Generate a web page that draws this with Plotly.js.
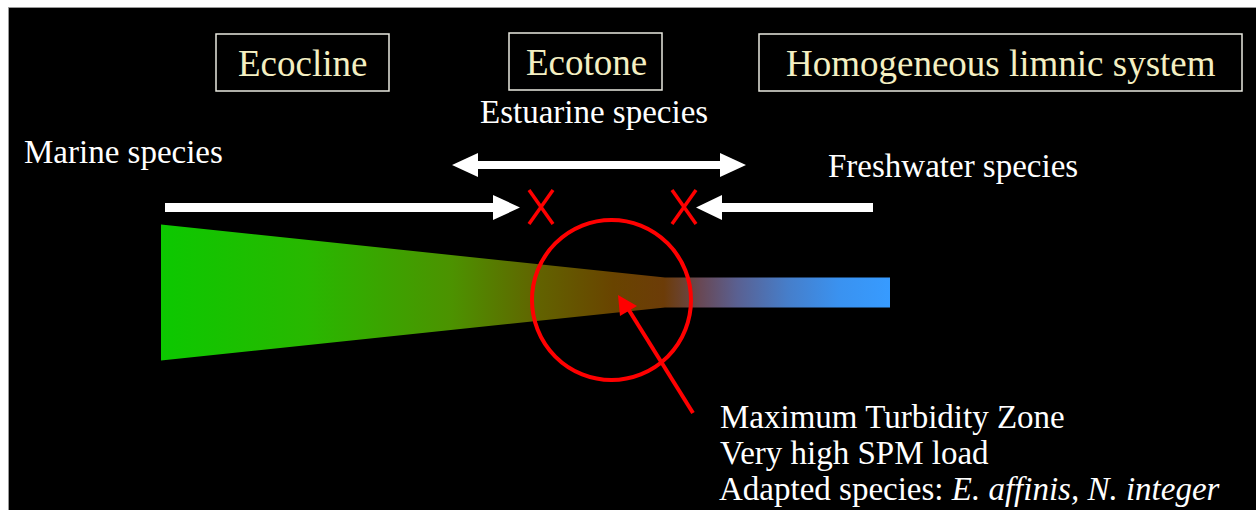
<!DOCTYPE html>
<html>
<head>
<meta charset="utf-8">
<script src="https://cdn.plot.ly/plotly-3.0.1.min.js"></script>
<style>html,body{margin:0;padding:0;background:#fff;}#chart{width:1256px;height:510px;}</style>
</head>
<body>
<div id="chart"></div>
<script>
// ---- data ----
const zoneLabels = ['Ecocline', 'Ecotone', 'Homogeneous limnic system'];
const speciesLabels = ['Marine species', 'Estuarine species', 'Freshwater species'];
const mtzNotes = ['Maximum Turbidity Zone', 'Very high SPM load', 'Adapted species: <i>E. affinis, N. integer</i>'];
// estuary profile: position along the estuary and channel half-width
const estuaryPos = [161, 665, 890];
const estuaryHalfWidth = [68, 15, 15];
// colour of the water along the estuary (fraction of length, colour)
const gradientFrac = [0, 0.20, 0.40, 0.52, 0.62, 0.69, 0.74, 0.79, 0.86, 0.93, 1.0];
const gradientColors = ['rgb(12,200,0)', 'rgb(40,184,0)', 'rgb(76,146,0)', 'rgb(98,98,0)', 'rgb(105,68,0)',
  'rgb(108,60,8)', 'rgb(104,72,85)', 'rgb(90,96,145)', 'rgb(70,126,202)', 'rgb(58,146,240)', 'rgb(55,155,255)'];

// ---- build ----
const yc = 292.5;
const polyX = estuaryPos.concat(estuaryPos.slice().reverse()).concat([estuaryPos[0]]);
const polyY = estuaryPos.map((p, i) => yc - estuaryHalfWidth[i])
  .concat(estuaryPos.slice().reverse().map((p, i) => yc + estuaryHalfWidth[estuaryPos.length - 1 - i]))
  .concat([yc - estuaryHalfWidth[0]]);

const traces = [{
  type: 'scatter', mode: 'lines', x: polyX, y: polyY,
  fill: 'toself', line: {width: 0, color: 'rgba(0,0,0,0)'},
  fillgradient: {type: 'horizontal', start: estuaryPos[0], stop: estuaryPos[estuaryPos.length - 1],
    colorscale: gradientFrac.map((f, i) => [f, gradientColors[i]])},
  hoverinfo: 'skip'
}];

const white = '#ffffff', red = '#ff0000', cream = '#F4EFC2';
const boxes = [[216, 34, 389, 91], [509, 33, 662, 90], [759, 34, 1242, 91]];
const shapes = [
  {type: 'rect', xref: 'x', yref: 'y', x0: 8.5, y0: 7.5, x1: 1300, y1: 560, fillcolor: '#000', line: {color: '#999', width: 1}, layer: 'below'}
];
boxes.forEach(b => shapes.push({type: 'rect', x0: b[0], y0: b[1], x1: b[2], y1: b[3], line: {color: '#e9e9e0', width: 1.5}, layer: 'above'}));
// white arrows
shapes.push({type: 'path', path: 'M452,165 L478,153 L478,161 L720,161 L720,153 L746,165 L720,177 L720,169 L478,169 L478,177 Z', fillcolor: white, line: {width: 0}, layer: 'above'});
shapes.push({type: 'path', path: 'M165,203 L493,203 L493,195 L520,207.5 L493,220 L493,212 L165,212 Z', fillcolor: white, line: {width: 0}, layer: 'above'});
shapes.push({type: 'path', path: 'M873,203 L722,203 L722,195 L696,207.5 L722,220 L722,212 L873,212 Z', fillcolor: white, line: {width: 0}, layer: 'above'});
// red crosses
[541, 684].forEach(cx => {
  shapes.push({type: 'line', x0: cx - 12, y0: 190, x1: cx + 12, y1: 224, line: {color: red, width: 3.5}, layer: 'above'});
  shapes.push({type: 'line', x0: cx + 12, y0: 190, x1: cx - 12, y1: 224, line: {color: red, width: 3.5}, layer: 'above'});
});
// red circle
shapes.push({type: 'circle', x0: 532, y0: 220, x1: 691, y1: 380, line: {color: red, width: 4}, layer: 'above'});
// red arrow
shapes.push({type: 'line', x0: 693, y0: 413, x1: 627, y1: 307, line: {color: red, width: 4}, layer: 'above'});
shapes.push({type: 'path', path: 'M618,295 L637,306 L620,316 Z', fillcolor: red, line: {width: 0}, layer: 'above'});

const serif = 'Liberation Serif, Times New Roman, serif';
const ann = (text, x, y, xanchor, size, color) => ({
  text, x, y, xref: 'x', yref: 'y', xanchor, yanchor: 'middle', showarrow: false,
  borderpad: 0, borderwidth: 0, font: {family: serif, size, color}
});
const annotations = [
  ann(zoneLabels[0], 302, 63, 'center', 37, cream),
  ann(zoneLabels[1], 586, 62, 'center', 37, cream),
  ann(zoneLabels[2], 1001, 63, 'center', 37, cream),
  ann(speciesLabels[0], 24, 152, 'left', 33, white),
  ann(speciesLabels[1], 594, 112, 'center', 33, white),
  ann(speciesLabels[2], 828, 166, 'left', 33, white),
  ann(mtzNotes[0], 720, 417, 'left', 33, white),
  ann(mtzNotes[1], 720, 453, 'left', 33, white),
  ann(mtzNotes[2], 719, 489, 'left', 33, white)
];

const layout = {
  width: 1256, height: 510, margin: {l: 0, r: 0, t: 0, b: 0, pad: 0},
  paper_bgcolor: '#fff', plot_bgcolor: '#fff', showlegend: false,
  xaxis: {range: [0, 1256], visible: false, fixedrange: true},
  yaxis: {range: [510, 0], visible: false, fixedrange: true},
  shapes, annotations
};
Plotly.newPlot('chart', traces, layout, {staticPlot: true, displayModeBar: false});
</script>
</body>
</html>
